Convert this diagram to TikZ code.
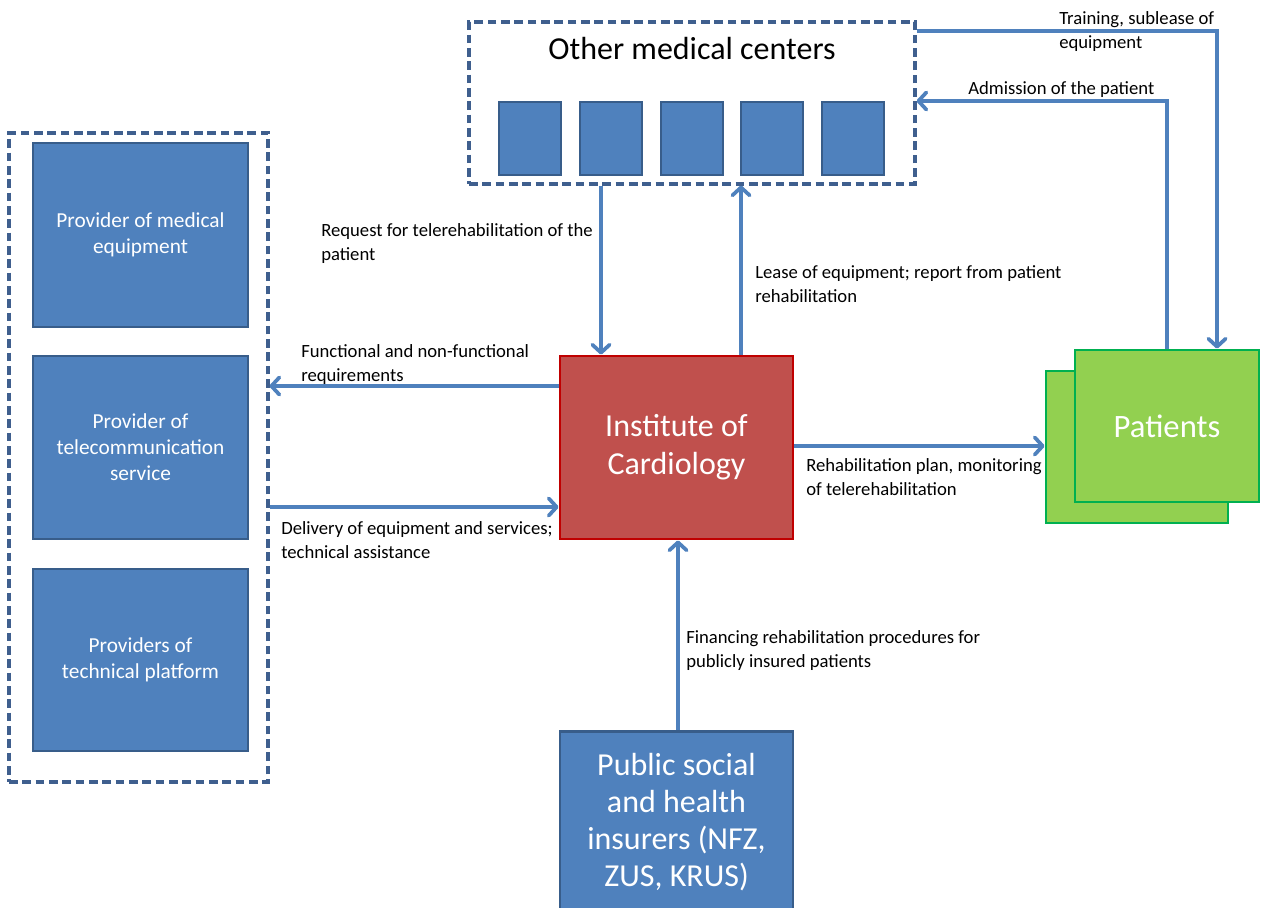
\documentclass[tikz,border=0pt]{standalone}
\usepackage{fontspec}
\setmainfont{Carlito}
\usetikzlibrary{arrows.meta}
\definecolor{boxblue}{HTML}{4F81BD}
\definecolor{boxedge}{HTML}{385D8A}
\definecolor{dashedge}{HTML}{3F5F8E}
\definecolor{instfill}{HTML}{C0504D}
\definecolor{instedge}{HTML}{C00000}
\definecolor{patfill}{HTML}{92D050}
\definecolor{patedge}{HTML}{00B050}
\definecolor{flow}{HTML}{4F81BD}
\tikzset{
  px/.style={x=0.75pt,y=-0.75pt},
  group/.style={draw=dashedge,line width=2.3pt,dash pattern=on 6.5pt off 3.5pt,inner sep=0pt},
  bluebox/.style={draw=boxedge,fill=boxblue,line width=2.2pt,inner sep=0pt,text=white,align=center},
  instbox/.style={draw=instedge,fill=instfill,line width=2.2pt,inner sep=0pt,text=white,align=center},
  patbox/.style={draw=patedge,fill=patfill,line width=2.2pt,inner sep=0pt,text=white,align=center},
  flowline/.style={draw=flow,line width=2.8pt,-{Straight Barb[length=6pt,width=13pt,line width=2.8pt,round]}},
  note/.style={anchor=west,align=left,inner sep=0pt,font=\fontsize{14}{18}\selectfont},
}
\begin{document}
\begin{tikzpicture}[px]
\useasboundingbox (0,0) rectangle (1262,907);

% groups
\node[group,minimum width=334.5pt,minimum height=121.5pt] (omc) at (692,103) {};
\node[font=\fontsize{24}{28}\selectfont,inner sep=0pt] (omctitle) at (692,49) {Other medical centers};
\node[group,minimum width=194.25pt,minimum height=486.75pt] (prov) at (138.5,457.5) {};

% medical centre squares
\foreach \cx [count=\i] in {530,611,692,772,853}
  \node[bluebox,minimum width=46.5pt,minimum height=54.75pt] (mc\i) at (\cx,138.5) {};

% providers
\node[bluebox,minimum width=161.25pt,minimum height=138pt,font=\fontsize{16}{19.5}\selectfont] (p1) at (140.5,235) {Provider of medical\\equipment};
\node[bluebox,minimum width=161.25pt,minimum height=137.25pt,font=\fontsize{16}{19.5}\selectfont] (p2) at (140.5,447.5) {Provider of\\telecommunication\\service};
\node[bluebox,minimum width=161.25pt,minimum height=136.5pt,font=\fontsize{16}{19.5}\selectfont] (p3) at (140.5,660) {Providers of\\technical platform};

% institute
\node[instbox,minimum width=174.75pt,minimum height=137.25pt,font=\fontsize{24}{28.5}\selectfont] (ic) at (676.5,447.5) {Institute of\\Cardiology};

% insurers (runs past the lower edge)
\node[bluebox,minimum width=174.75pt,minimum height=165pt,anchor=north] (ins) at (676.5,730) {};
\node[text=white,align=center,inner sep=0pt,font=\fontsize{24}{27.75}\selectfont] (instext) at (676.5,822) {Public social\\and health\\insurers (NFZ,\\ZUS, KRUS)};

% patients
\node[patbox,minimum width=136.5pt,minimum height=114pt] (patback) at (1137,447) {};
\node[patbox,minimum width=138pt,minimum height=114pt,font=\fontsize{24.5}{28}\selectfont] (pat) at (1167,426) {Patients};

% x / y positions of the connectors
\coordinate (xreq) at (601,0);
\coordinate (xlease) at (741,0);
\coordinate (yfun) at (0,386);
\coordinate (ydel) at (0,507);
\coordinate (yplan) at (0,446);
\coordinate (xfin) at (678,0);
\coordinate (ytrain) at (0,31);
\coordinate (xtrain) at (1217,0);
\coordinate (yadm) at (0,101);
\coordinate (xadm) at (1167,0);

\draw[flowline] (omc.south -| xreq) -- (ic.north -| xreq);
\draw[flowline] (ic.north -| xlease) -- (omc.south -| xlease);
\draw[flowline] (ic.west |- yfun) -- (prov.east |- yfun);
\draw[flowline] (prov.east |- ydel) -- (ic.west |- ydel);
\draw[flowline] (ic.east |- yplan) -- (patback.west |- yplan);
\draw[flowline] (ins.north -| xfin) -- (ic.south -| xfin);
\draw[flowline] (omc.east |- ytrain) -- (xtrain |- ytrain) -- (pat.north -| xtrain);
\draw[flowline] (pat.north -| xadm) -- (xadm |- yadm) -- (omc.east |- yadm);

% labels
\node[note] (lreq) at (321,244) {Request for telerehabilitation of the\\patient};
\node[note] (llease) at (755,284) {Lease of equipment; report from patient\\rehabilitation};
\node[note] (lfun) at (301,365) {Functional and non-functional\\requirements};
\node[note] (ldel) at (281,540) {Delivery of equipment and services;\\technical assistance};
\node[note] (lplan) at (806,477) {Rehabilitation plan, monitoring\\of telerehabilitation};
\node[note] (lfin) at (686,651) {Financing rehabilitation procedures for\\publicly insured patients};
\node[note] (ltrain) at (1059,32) {Training, sublease of\\equipment};
\node[note] (ladm) at (968,90) {Admission of the patient};
\end{tikzpicture}
\end{document}
